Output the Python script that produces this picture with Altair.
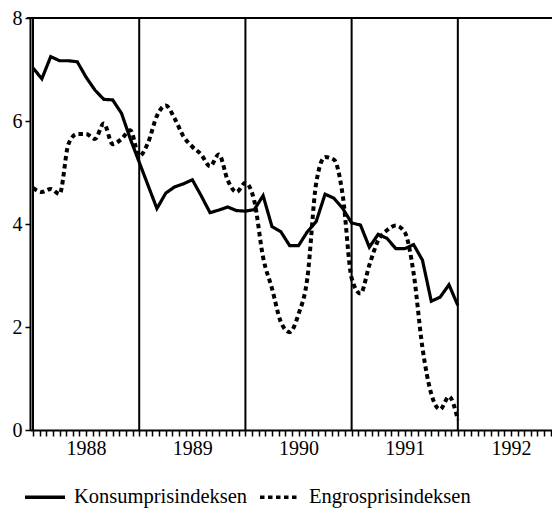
import altair as alt
import pandas as pd

# months since January 1988 (0 = first data point)
months = list(range(49))
konsum = [7.03, 6.82, 7.25, 7.17, 7.17, 7.15, 6.85, 6.6, 6.42, 6.41,
          6.15, 5.65, 5.2, 4.75, 4.3, 4.6, 4.72, 4.78, 4.86, 4.55,
          4.22, 4.27, 4.33, 4.26, 4.25, 4.28, 4.55, 3.95, 3.85, 3.58,
          3.58, 3.85, 4.05, 4.58, 4.5, 4.3, 4.02, 3.98, 3.55, 3.8,
          3.72, 3.52, 3.52, 3.6, 3.3, 2.5, 2.58, 2.82, 2.42]
engros = [4.7, 4.62, 4.68, 4.58, 5.55, 5.75, 5.75, 5.65, 5.95, 5.55,
          5.65, 5.82, 5.32, 5.58, 6.1, 6.3, 6.05, 5.7, 5.5, 5.35,
          5.12, 5.35, 4.85, 4.62, 4.8, 4.45, 3.35, 2.75, 2.1, 1.9,
          2.25, 2.95, 4.8, 5.3, 5.25, 4.55, 2.95, 2.65, 3.2, 3.68,
          3.88, 3.97, 3.84, 3.05, 1.6, 0.7, 0.4, 0.65, 0.2]
series_names = ["Konsumprisindeksen", "Engrosprisindeksen"]
year_lines = [0, 12, 24, 36, 48]
year_labels = [1988, 1989, 1990, 1991, 1992]
label_pos = [6, 18, 30, 42, 54]
y_ticks = [0, 2, 4, 6, 8]

FONT = "Liberation Serif"
W, H = 522, 412
x_domain = [-0.34, 58.64]

df = pd.DataFrame({
    "m": months * 2,
    "v": konsum + engros,
    "s": [series_names[0]] * len(months) + [series_names[1]] * len(months),
})
df_lines = pd.DataFrame({"m": year_lines})

tick_vals = [round(0.75 * k, 4) for k in range(0, 79) if 0.75 * k <= x_domain[1]]
label_expr = " : ".join(
    f"datum.value == {p} ? '{y}'" for p, y in zip(label_pos, year_labels)
) + " : ''"

x_enc = alt.X("m:Q", scale=alt.Scale(domain=x_domain, nice=False, zero=False),
              axis=alt.Axis(values=tick_vals, labelExpr=label_expr, title=None,
                            grid=False, tickSize=6, tickWidth=1.5, domainWidth=2,
                            domainColor="black", tickColor="black",
                            labelFont=FONT, labelFontSize=20, labelColor="black",
                            labelPadding=2, labelOverlap=False, labelFlush=False))
y_enc = alt.Y("v:Q", scale=alt.Scale(domain=[0, 8], nice=False),
              axis=alt.Axis(values=y_ticks, title=None, grid=False, tickSize=5,
                            tickWidth=1.5, domainWidth=2, domainColor="black",
                            tickColor="black", labelFont=FONT, labelFontSize=20,
                            labelColor="black", labelPadding=3))

dash = alt.StrokeDash("s:N",
                      scale=alt.Scale(domain=series_names, range=[[1, 0], [4.5, 3.5]]),
                      legend=alt.Legend(title=None, orient="none", legendX=-7, legendY=457,
                                        direction="horizontal", symbolType="stroke",
                                        symbolSize=1600, symbolStrokeWidth=3.4,
                                        symbolStrokeColor="black",
                                        labelFont=FONT, labelFontSize=20.5,
                                        labelColor="black", labelOffset=7,
                                        columnPadding=5, labelLimit=400))

vlines = alt.Chart(df_lines).mark_rule(color="black", strokeWidth=2).encode(x=x_enc)

top = alt.Chart(df_lines).mark_rule(color="black", strokeWidth=2).encode(
    x=alt.value(-3), x2=alt.value(W + 10), y=alt.value(0))

solid = alt.Chart(df).transform_filter(alt.datum.s == series_names[0]).mark_line(
    color="black", strokeWidth=3.2).encode(x=x_enc, y=y_enc, strokeDash=dash)
dotted = alt.Chart(df).transform_filter(alt.datum.s == series_names[1]).mark_line(
    color="black", strokeWidth=4, interpolate="monotone").encode(x=x_enc, y=y_enc, strokeDash=dash)

chart = alt.layer(vlines, top, solid, dotted).properties(
    width=W, height=H,
    autosize=alt.AutoSizeParams(type="none"),
    padding={"left": 22, "top": 10, "right": 0, "bottom": 78},
).configure_view(stroke=None).configure(background="white")

chart.save("out.html", embed_options={"renderer": "svg", "actions": False})
